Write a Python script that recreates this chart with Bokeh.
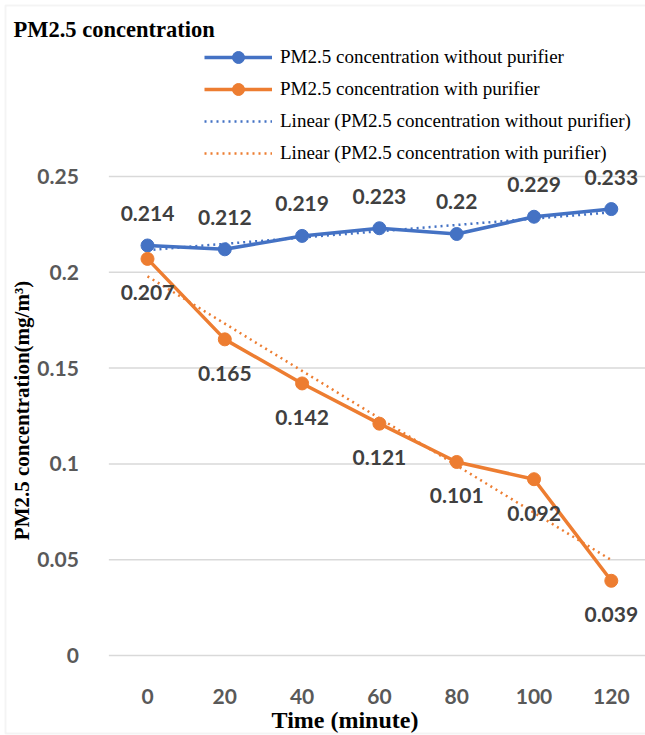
import numpy as np
from bokeh.plotting import figure
from bokeh.models import (ColumnDataSource, Legend, LegendItem, Label, FixedTicker,
                          BoxAnnotation, Range1d)
from bokeh.core.properties import value
from bokeh.embed import file_html
from bokeh.resources import INLINE

times = [0, 20, 40, 60, 80, 100, 120]
without_purifier = [0.214, 0.212, 0.219, 0.223, 0.22, 0.229, 0.233]
with_purifier = [0.207, 0.165, 0.142, 0.121, 0.101, 0.092, 0.039]
y_ticks = [0, 0.05, 0.1, 0.15, 0.2, 0.25]
y_tick_labels = ["0", "0.05", "0.1", "0.15", "0.2", "0.25"]

BLUE = "#4472C4"
ORANGE = "#ED7D31"
SERIF = "Liberation Serif"
SANS = "Lato"

idx = list(range(len(times)))
fit_a = np.polyfit(idx, without_purifier, 1)
fit_b = np.polyfit(idx, with_purifier, 1)
trend_a = list(np.polyval(fit_a, idx))
trend_b = list(np.polyval(fit_b, idx))

src = ColumnDataSource(dict(
    x=idx, a=without_purifier, b=with_purifier, ta=trend_a, tb=trend_b,
    la=[f"{v:g}" for v in without_purifier], lb=[f"{v:g}" for v in with_purifier],
))

W, H = 645, 735
# frame covers the whole canvas; axes are pinned inside it
p = figure(width=W, height=H, output_backend="svg", toolbar_location=None,
           x_range=Range1d(-1.9017, 6.4424), y_range=Range1d(-0.04175, 0.34186),
           min_border_left=0, min_border_right=0, min_border_top=0,
           min_border_bottom=0)
p.outline_line_color = None
p.background_fill_color = "white"
p.border_fill_color = "white"
p.xgrid.visible = False
p.ygrid.visible = False

# horizontal gridlines (plot area only)
grid_x0 = [-0.5] * len(y_ticks)
grid_x1 = [6.6] * len(y_ticks)
p.segment(x0=grid_x0, x1=grid_x1, y0=y_ticks, y1=y_ticks,
          line_color="#D9D9D9", line_width=1.5)

# axes
p.xaxis.ticker = FixedTicker(ticks=idx)
p.xaxis.major_label_overrides = {i: str(t) for i, t in zip(idx, times)}
p.xaxis.fixed_location = 0
p.xaxis.bounds = (-1.0, 6.1)
p.yaxis.ticker = FixedTicker(ticks=y_ticks)
p.yaxis.major_label_overrides = {t: l for t, l in zip(y_ticks, y_tick_labels)}
p.yaxis.fixed_location = -0.5
p.yaxis.bounds = (0, 0.256)
for ax in (p.xaxis, p.yaxis):
    ax.axis_line_color = None
    ax.major_tick_line_color = None
    ax.minor_tick_line_color = None
    ax.major_label_text_font = SANS
    ax.major_label_text_font_style = "bold"
    ax.major_label_text_font_size = "21px"
    ax.major_label_text_color = "#595959"
    ax.axis_label_text_font = SERIF
    ax.axis_label_text_font_style = "bold"
    ax.axis_label_text_color = "#000000"
p.xaxis.axis_label_text_font_size = "24px"
p.yaxis.axis_label_text_font_size = "21px"
p.xaxis.major_label_standoff = 27
p.xaxis.axis_label = "Time (minute)"
p.xaxis.axis_label_standoff = 0
p.yaxis.major_label_standoff = 24
p.yaxis.axis_label = "PM2.5 concentration(mg/m³)"
p.yaxis.axis_label_standoff = 0

# series
la = p.line("x", "a", source=src, line_color=BLUE, line_width=3.5)
sa = p.scatter("x", "a", source=src, size=13, color=BLUE)
lb = p.line("x", "b", source=src, line_color=ORANGE, line_width=3.5)
sb = p.scatter("x", "b", source=src, size=13, color=ORANGE)
ta = p.line("x", "ta", source=src, line_color=BLUE, line_width=2.5, line_dash="2 4")
tb = p.line("x", "tb", source=src, line_color=ORANGE, line_width=2.5, line_dash="2 4")

# data labels
p.text("x", "a", text="la", source=src, y_offset=-32, text_align="center",
       text_baseline="middle", text_font=value(SANS), text_font_style="bold",
       text_font_size="21px", text_color="#404040")
p.text("x", "b", text="lb", source=src, y_offset=34, text_align="center",
       text_baseline="middle", text_font=value(SANS), text_font_style="bold",
       text_font_size="21px", text_color="#404040")

# legend
legend = Legend(items=[
    LegendItem(label="PM2.5 concentration without purifier", renderers=[la, sa]),
    LegendItem(label="PM2.5 concentration with purifier", renderers=[lb, sb]),
    LegendItem(label="Linear (PM2.5 concentration without purifier)", renderers=[ta]),
    LegendItem(label="Linear (PM2.5 concentration with purifier)", renderers=[tb]),
], location=(204, 567), orientation="vertical")
legend.label_text_font = SERIF
legend.label_text_font_size = "19px"
legend.label_text_color = "#000000"
legend.glyph_width = 68
legend.glyph_height = 30
legend.spacing = 2
legend.padding = 0
legend.margin = 0
legend.label_standoff = 8
legend.border_line_color = None
legend.background_fill_alpha = 0
p.add_layout(legend, "center")

# title
title = Label(x=13, y=H - 29, x_units="screen", y_units="screen",
              text="PM2.5 concentration",
              text_font=SERIF, text_font_style="bold", text_font_size="22.5px",
              text_color="#000000", text_baseline="middle", text_align="left")
p.add_layout(title)

# chart border
border = BoxAnnotation(left=5, right=W + 5, bottom=2, top=H - 5,
                       left_units="screen", right_units="screen",
                       bottom_units="screen", top_units="screen",
                       fill_alpha=0, line_color="#D9D9D9", line_width=2)
p.add_layout(border)

open("out.html", "w").write(file_html(p, INLINE))
